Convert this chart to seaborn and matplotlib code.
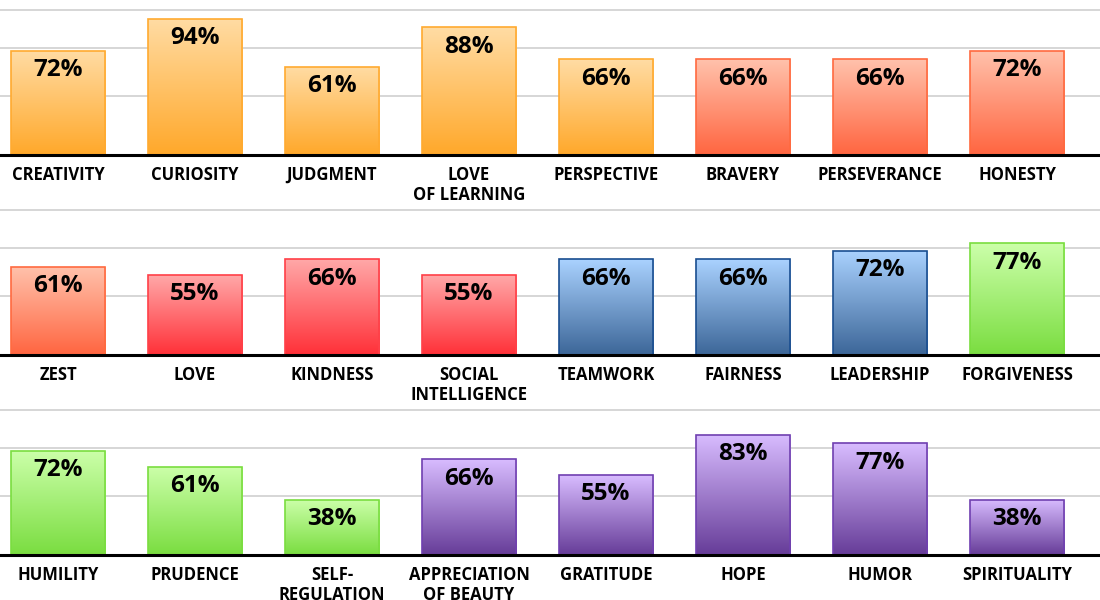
import matplotlib
matplotlib.use("Agg")
import matplotlib.pyplot as plt
import matplotlib.colors as mcolors
import numpy as np
import pandas as pd
import seaborn as sns

row1_labels = ["CREATIVITY", "CURIOSITY", "JUDGMENT", "LOVE\nOF LEARNING", "PERSPECTIVE", "BRAVERY", "PERSEVERANCE", "HONESTY"]
row1_values = [72, 94, 61, 88, 66, 66, 66, 72]
row1_groups = ["orange"] * 5 + ["coral"] * 3
row2_labels = ["ZEST", "LOVE", "KINDNESS", "SOCIAL\nINTELLIGENCE", "TEAMWORK", "FAIRNESS", "LEADERSHIP", "FORGIVENESS"]
row2_values = [61, 55, 66, 55, 66, 66, 72, 77]
row2_groups = ["coral", "red", "red", "red", "blue", "blue", "blue", "green"]
row3_labels = ["HUMILITY", "PRUDENCE", "SELF-\nREGULATION", "APPRECIATION\nOF BEAUTY", "GRATITUDE", "HOPE", "HUMOR", "SPIRITUALITY"]
row3_values = [72, 61, 38, 66, 55, 83, 77, 38]
row3_groups = ["green", "green", "green", "purple", "purple", "purple", "purple", "purple"]

palette = {
    "orange": ("#FFDCA4", "#FFA82A", "#FFAA30"),
    "coral": ("#FFC2AC", "#FF6540", "#FF6A40"),
    "red": ("#FFA8A8", "#FF3038", "#FF4048"),
    "blue": ("#AAD2FF", "#3C6698", "#1A4E90"),
    "green": ("#CCFFAA", "#7ADD40", "#7ADD40"),
    "purple": ("#D8BCFF", "#663C98", "#7040B0"),
}

plt.rcParams["font.family"] = "Open Sans"
fig = plt.figure(figsize=(11, 6), dpi=100)

rows = [(row1_labels, row1_values, row1_groups),
        (row2_labels, row2_values, row2_groups),
        (row3_labels, row3_values, row3_groups)]
x0 = -58 / 137
x1 = x0 + 1100 / 137
for r, (labels, values, groups) in enumerate(rows):
    base = 155 + 200 * r
    ax = fig.add_axes([0, 1 - base / 600, 1, 145 / 600])
    df = pd.DataFrame({"label": labels, "value": values})
    sns.barplot(data=df, x="label", y="value", ax=ax, width=0.69, color="white", zorder=2)
    ax.set_xlim(x0, x1)
    ax.set_ylim(0, 100)
    for g in [41, 74, 100]:
        ax.axhline(g, color="#d0d0d0", lw=1.2, zorder=0, clip_on=False)
    ax.axhline(0, color="black", lw=2.2, zorder=5, clip_on=False)
    for spine in ax.spines.values():
        spine.set_visible(False)
    ax.set_yticks([])
    ax.set_xlabel("")
    ax.set_ylabel("")
    ax.tick_params(axis="x", length=0, pad=8)
    ax.set_xticks(range(len(labels)))
    ax.set_xticklabels(labels, fontsize=12, fontweight="bold", linespacing=1.1, va="top")
    for p, v, g in zip(ax.patches, values, groups):
        top, bot, edge = palette[g]
        cmap = mcolors.LinearSegmentedColormap.from_list("c", [bot, top])
        xL, w, h = p.get_x(), p.get_width(), p.get_height()
        grad = np.linspace(0, 1, 256).reshape(-1, 1)
        im = ax.imshow(grad, extent=[xL, xL + w, 0, h], origin="lower", aspect="auto",
                       cmap=cmap, zorder=3)
        im.set_clip_path(p)
        p.set_facecolor("none")
        p.set_edgecolor(edge)
        p.set_linewidth(1.2)
        p.set_zorder(4)
        ax.text(xL + w / 2, h - 5, f"{v}%", ha="center", va="top", fontsize=17.5,
                fontweight="bold", color="black", zorder=6)

fig.savefig("out.png", dpi=100)
